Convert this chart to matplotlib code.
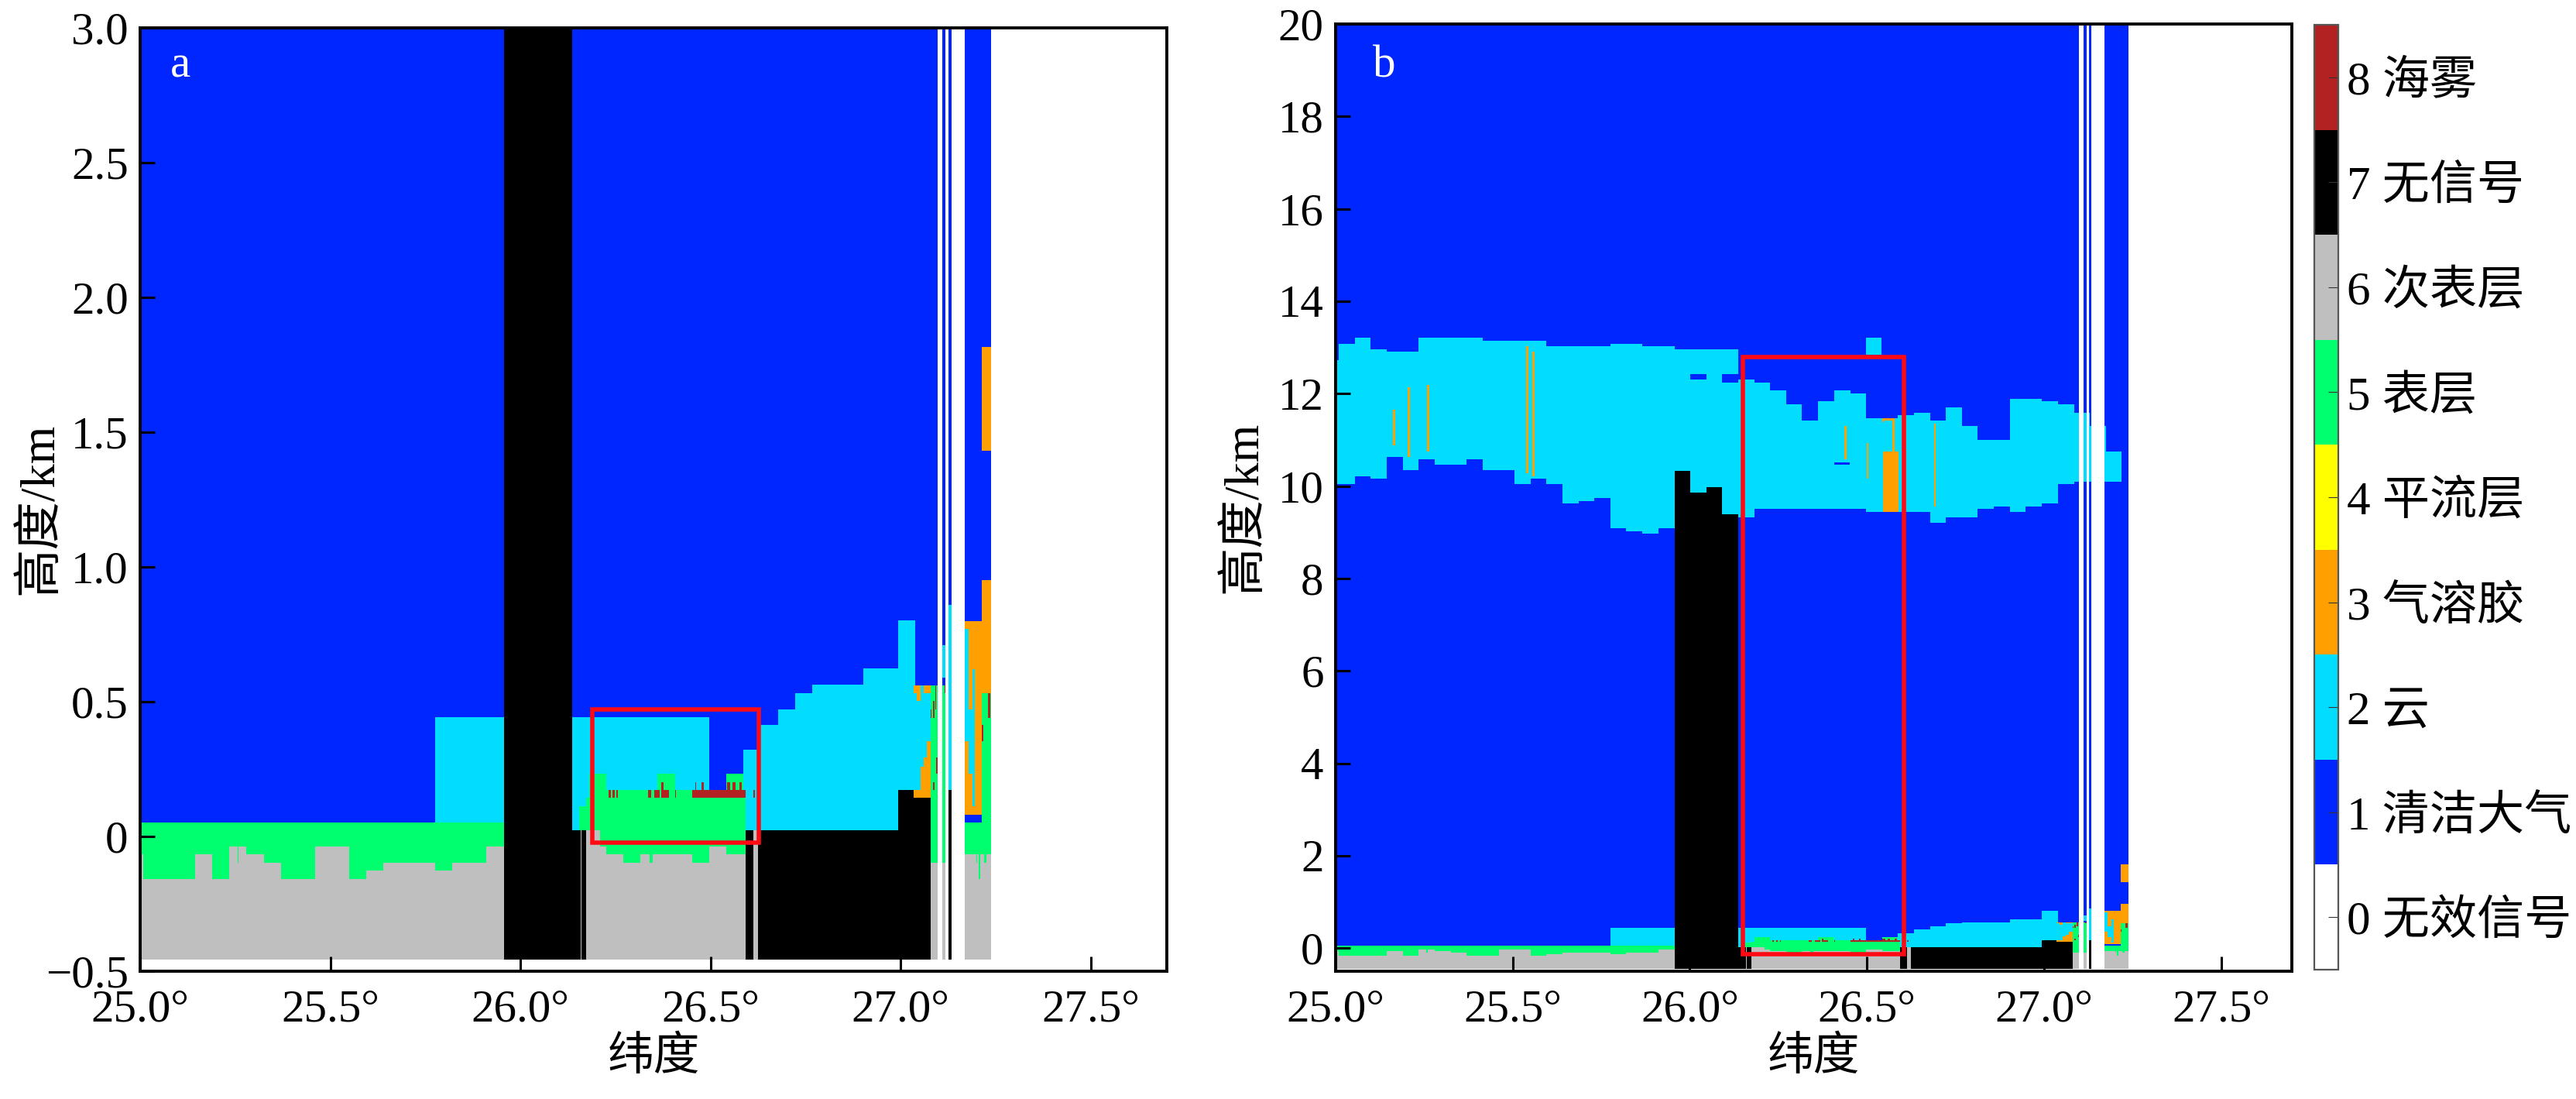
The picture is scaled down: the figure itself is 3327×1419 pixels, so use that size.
import numpy as np
import matplotlib
matplotlib.use('Agg')
import matplotlib.pyplot as plt
from matplotlib.colors import ListedColormap
from matplotlib.patches import Rectangle

plt.rcParams['font.family'] = ['Liberation Serif', 'Noto Sans CJK SC']
plt.rcParams['axes.unicode_minus'] = False

# ---- categories ----
class_labels = ['0 无效信号', '1 清洁大气', '2 云', '3 气溶胶', '4 平流层', '5 表层', '6 次表层', '7 无信号', '8 海雾']
class_colors = ['#ffffff', '#0026ff', '#00ddff', '#ff9f00', '#ffff00', '#00ff6e', '#bfbfbf', '#000000', '#b22222']
INVALID, CLEAR, CLOUD, AEROSOL, STRAT, SURFACE, SUBSURF, NOSIGNAL, FOG = range(9)

x_ticks = [25.0, 25.5, 26.0, 26.5, 27.0, 27.5]
x_tick_labels = ['25.0°', '25.5°', '26.0°', '26.5°', '27.0°', '27.5°']
ya_ticks = [-0.5, 0, 0.5, 1.0, 1.5, 2.0, 2.5, 3.0]
ya_tick_labels = ['−0.5', '0', '0.5', '1.0', '1.5', '2.0', '2.5', '3.0']
yb_ticks = [0, 2, 4, 6, 8, 10, 12, 14, 16, 18, 20]

# ---- profile columns, 5 km bins along the track ----
lat_first = 25.009
lat_step = 0.04508
base = -0.457
top = 20.5

# k = -1 ... 45
subsurface_top = [-0.067, -0.157, -0.157, -0.157, -0.067, -0.157, -0.037, -0.067, -0.097, -0.157, -0.157,
                  -0.037, -0.037, -0.157, -0.127, -0.097, -0.097, -0.097, -0.127, -0.097, -0.097, -0.037,
                  -0.457, -0.457, -0.457, -0.457, -0.457,
                  -0.037, -0.067, -0.097, -0.067, -0.067, -0.067, -0.097, -0.037, -0.067,
                  -0.457, -0.457, -0.457, -0.457, -0.457, -0.457, -0.457, -0.457, -0.457, -0.457, -0.457]
surface_top = [0.053] * 22 + [-0.457] * 5 + [0.233, 0.173, 0.173, 0.173, 0.233, 0.173, 0.173, 0.173, 0.233] + [-0.457] * 11
nosignal_top = [-0.457] * 22 + [10.335, 9.86, 9.978, 9.386, 0.023] + [-0.457] * 9 + [0.023] * 9 + [0.173, 0.143]
low_cloud_top = [-0.457] * 18 + [0.443] * 4 + [-0.457] * 4 + [0.443] * 8 + [-0.457] * 2 + \
                [0.323, 0.413, 0.473, 0.533, 0.563, 0.563, 0.563, 0.623, 0.623, 0.803, 0.56]

# k = -1 ... 48
high_cloud_top = [12.73, 13.082, 13.205, 12.965, 12.909, 12.909, 13.205, 13.205, 13.205, 13.205,
                  13.143, 13.143, 13.143, 13.143, 13.026, 13.026, 13.026, 13.026, 13.082, 13.082,
                  13.026, 13.026, 12.965, 12.965, 12.965, 12.965, 12.306, 12.245, 12.066, 11.77,
                  11.413, 11.831, 12.066, 12.01, 11.474, 11.474, 11.53, 11.591, 11.413, 11.709,
                  11.295, 10.994, 10.994, 11.887, 11.887, 11.831, 11.77, 11.591, 11.295, 10.754]
high_cloud_base = [10.039, 10.039, 10.212, 10.162, 10.631, 10.34, 10.581, 10.463, 10.463, 10.581,
                   10.34, 10.34, 10.039, 10.162, 10.039, 9.62, 9.682, 9.743, 9.084, 9.028,
                   8.967, 9.084, 10.335, 9.86, 9.978, 9.386, 9.324, 9.503, 9.503, 9.503,
                   9.503, 9.503, 9.503, 9.503, 9.447, 9.447, 9.447, 9.447, 9.207, 9.324,
                   9.324, 9.503, 9.564, 9.447, 9.564, 9.62, 10.039, 10.101, 10.101, 10.101]

# ---- finer 333 m features: (lat0, lat1, h0, h1, class) ----
fine_features = [
    # green slivers inside the subsurface layer
    (25.256, 25.259, -0.097, -0.037, SURFACE), (26.340, 26.348, -0.097, -0.067, SURFACE),
    # edges around the no-signal block
    (26.172, 26.210, -0.457, 0.023, SUBSURF), (26.158, 26.161, -0.457, 0.023, SUBSURF),
    (26.155, 26.172, 0.023, 0.113, SURFACE), (26.172, 26.193, 0.023, 0.143, SURFACE),
    (26.193, 26.210, 0.023, 0.233, SURFACE), (26.172, 26.181, 0.143, 0.443, CLOUD),
    (26.587, 26.593, -0.457, -0.067, SUBSURF), (26.587, 26.593, -0.067, 0.143, SURFACE),
    (26.613, 26.624, -0.457, 0.023, SUBSURF),
    # sea fog
    (26.231, 26.237, 0.143, 0.173, FOG), (26.243, 26.248, 0.143, 0.173, FOG), (26.253, 26.256, 0.143, 0.173, FOG),
    (26.335, 26.343, 0.143, 0.173, FOG), (26.353, 26.367, 0.143, 0.173, FOG), (26.371, 26.390, 0.143, 0.173, FOG),
    (26.406, 26.410, 0.143, 0.173, FOG), (26.452, 26.593, 0.143, 0.173, FOG), (26.613, 26.616, 0.143, 0.173, FOG),
    (26.371, 26.376, 0.173, 0.203, FOG), (26.459, 26.463, 0.173, 0.203, FOG), (26.477, 26.482, 0.173, 0.203, FOG),
    (26.543, 26.551, 0.173, 0.203, FOG), (26.558, 26.565, 0.173, 0.203, FOG), (26.577, 26.583, 0.173, 0.203, FOG),
    # last bins before the gap
    (27.034, 27.079, -0.457, 0.142, NOSIGNAL),
    (27.034, 27.052, 0.142, 0.172, AEROSOL), (27.052, 27.061, 0.142, 0.261, AEROSOL),
    (27.061, 27.069, 0.142, 0.292, AEROSOL), (27.069, 27.079, 0.142, 0.352, AEROSOL),
    (27.034, 27.052, 0.532, 0.56, AEROSOL), (27.061, 27.079, 0.532, 0.56, AEROSOL),
    (27.042, 27.052, 0.502, 0.532, AEROSOL),
    (27.079, 27.097, -0.457, -0.098, SUBSURF), (27.079, 27.097, -0.098, 0.56, SURFACE),
    (27.091, 27.094, 0.472, 0.56, FOG), (27.079, 27.082, 0.44, 0.472, FOG), (27.085, 27.089, 0.44, 0.502, FOG),
    (27.094, 27.097, 0.232, 0.292, FOG), (27.085, 27.089, 0.172, 0.202, FOG),
    (27.110, 27.118, -0.457, -0.098, SUBSURF), (27.110, 27.118, -0.098, 0.56, SURFACE),
    (27.115, 27.118, 0.532, 0.56, FOG), (27.110, 27.118, 0.591, 0.711, CLOUD),
    (27.126, 27.133, -0.457, 0.172, NOSIGNAL), (27.126, 27.133, 0.172, 0.86, CLOUD),
    # block north of the gap
    (27.169, 27.237, -0.457, -0.068, SUBSURF), (27.169, 27.214, -0.068, 0.052, SURFACE),
    (27.169, 27.214, 0.081, 0.80, AEROSOL), (27.169, 27.179, 0.352, 0.771, CLOUD),
    (27.179, 27.188, 0.232, 0.472, CLOUD), (27.188, 27.196, 0.112, 0.621, CLOUD),
    (27.214, 27.237, -0.068, 0.532, SURFACE), (27.214, 27.237, 0.532, 0.95, AEROSOL),
    (27.214, 27.237, 1.429, 1.817, AEROSOL),
    (27.229, 27.235, 0.44, 0.532, FOG), (27.214, 27.217, 0.352, 0.412, FOG),
    (27.199, 27.202, -0.098, -0.068, SURFACE), (27.205, 27.209, -0.158, -0.068, SURFACE),
    (27.219, 27.225, -0.098, -0.068, SURFACE),
    # aerosol lines and patches in the high cloud
    (25.161, 25.168, 10.882, 11.653, AEROSOL), (25.203, 25.210, 10.636, 12.133, AEROSOL),
    (25.257, 25.264, 10.754, 12.189, AEROSOL), (25.538, 25.545, 10.273, 13.026, AEROSOL),
    (25.555, 25.562, 10.218, 12.909, AEROSOL), (26.435, 26.441, 10.575, 11.295, AEROSOL),
    (26.498, 26.504, 10.156, 10.932, AEROSOL), (26.544, 26.589, 9.447, 10.754, AEROSOL),
    (26.571, 26.577, 10.754, 11.457, AEROSOL), (26.543, 26.577, 11.41, 11.474, AEROSOL),
    (26.543, 26.547, 11.38, 11.41, AEROSOL), (26.688, 26.694, 9.559, 11.357, AEROSOL),
    # holes and an isolated patch of the high cloud
    (26.000, 26.047, 12.306, 12.429, CLEAR), (26.091, 26.136, 12.245, 12.429, CLEAR),
    (26.406, 26.451, 10.463, 10.508, CLEAR), (26.496, 26.541, 12.836, 13.205, CLOUD),
]
# gaps with no valid signal
invalid_gaps = [(27.097, 27.110), (27.118, 27.126), (27.133, 27.169), (27.237, 27.7)]

red_box_a = (26.189, 26.626, -0.022, 0.470)
red_box_b = (26.150, 26.605, -0.13, 12.797)

# ---- raster built from the values above ----
dlat, dh = 0.001, 0.0025
grid = np.zeros((int(round((top + 0.5) / dh)), int(round(2.7 / dlat))), dtype=np.uint8)


def paint(lat0, lat1, h0, h1, cls):
    if h1 <= h0:
        return
    i0, i1 = int(round((lat0 - 25) / dlat)), int(round((lat1 - 25) / dlat))
    j0, j1 = int(round((h0 + 0.5) / dh)), int(round((h1 + 0.5) / dh))
    grid[j0:j1, i0:i1] = cls


def col_edges(i):
    """Edges of the i-th entry; the entries begin at k = -1."""
    k = i - 1
    return (25.0 if k < 0 else lat_first + k * lat_step), lat_first + (k + 1) * lat_step


paint(25.0, 27.237, base, top, CLEAR)
for i in range(len(subsurface_top)):
    a, b = col_edges(i)
    paint(a, b, base, nosignal_top[i], NOSIGNAL)
    paint(a, b, base, subsurface_top[i], SUBSURF)
    floor = max(subsurface_top[i], nosignal_top[i])
    paint(a, b, floor, surface_top[i], SURFACE)
    floor = max(floor, surface_top[i])
    paint(a, b, floor, low_cloud_top[i], CLOUD)
for i in range(len(high_cloud_top)):
    a, b = col_edges(i)
    paint(a, b, high_cloud_base[i], high_cloud_top[i], CLOUD)
for f in fine_features:
    paint(*f)
for a, b in invalid_gaps:
    paint(a, b, -0.5, top, INVALID)
grid[:int(round((base + 0.5) / dh)), :] = INVALID

# ---- figure ----
W, H = 3327, 1419
fig = plt.figure(figsize=(W / 100, H / 100), dpi=100, facecolor='white')


def axes_px(l, t, r, b):
    return fig.add_axes([l / W, 1 - b / H, (r - l) / W, (b - t) / H])


ax_a = axes_px(181, 36, 1507, 1254)
ax_b = axes_px(1725, 31, 2960, 1254)
cax = axes_px(2989, 32, 3020, 1252)
cmap = ListedColormap(class_colors)
FS = 42.5

for ax, box, letter, lx in ((ax_a, red_box_a, 'a', 233), (ax_b, red_box_b, 'b', 1788)):
    im = ax.imshow(grid, origin='lower', extent=(25, 27.7, -0.5, top), aspect='auto',
                   cmap=cmap, vmin=-0.5, vmax=8.5, interpolation='nearest')
    ax.set_xlim(25, 27.7)
    ax.set_xticks(x_ticks)
    ax.set_xticklabels(x_tick_labels, fontsize=FS)
    ax.tick_params(axis='x', direction='in', length=14, width=2.2, pad=17, top=False)
    ax.tick_params(axis='y', direction='in', length=14, width=2.2, pad=11, right=False)
    for s in ax.spines.values():
        s.set_linewidth(2.8)
    ax.add_patch(Rectangle((box[0], box[2]), box[1] - box[0], box[3] - box[2], fill=False,
                           edgecolor='#ff0a14', linewidth=4, zorder=5))
    ax.set_xlabel('纬度', fontsize=43, labelpad=5)
    ax.set_ylabel('高度/km', fontsize=45)
    fig.text(lx / W, 1 - 85 / H, letter, color='white', fontsize=FS, ha='center', va='center')

ax_a.set_ylim(-0.5, 3.0)
ax_a.set_yticks(ya_ticks)
ax_a.set_yticklabels(ya_tick_labels, fontsize=FS)
ax_b.set_ylim(-0.5, 20)
ax_b.set_yticks(yb_ticks)
ax_b.set_yticklabels([str(v) for v in yb_ticks], fontsize=FS)
for t, v in zip(ax_b.xaxis.get_major_ticks(), x_ticks):
    if v in (26.0, 27.0):
        t.tick1line.set_color('white')
ax_a.yaxis.set_label_coords((81 - 181) / (1507 - 181), 0.49)
ax_b.yaxis.set_label_coords((1636 - 1725) / (2960 - 1725), 0.49)

cb = fig.colorbar(im, cax=cax, ticks=list(range(9)))
cb.ax.set_yticklabels(class_labels, fontsize=44)
cb.ax.tick_params(axis='y', direction='in', length=9.5, width=0.8, color='#333333', pad=8)
cb.outline.set_edgecolor('#555555')
cb.outline.set_linewidth(1.6)

fig.savefig('out.png', dpi=100, facecolor='white')
